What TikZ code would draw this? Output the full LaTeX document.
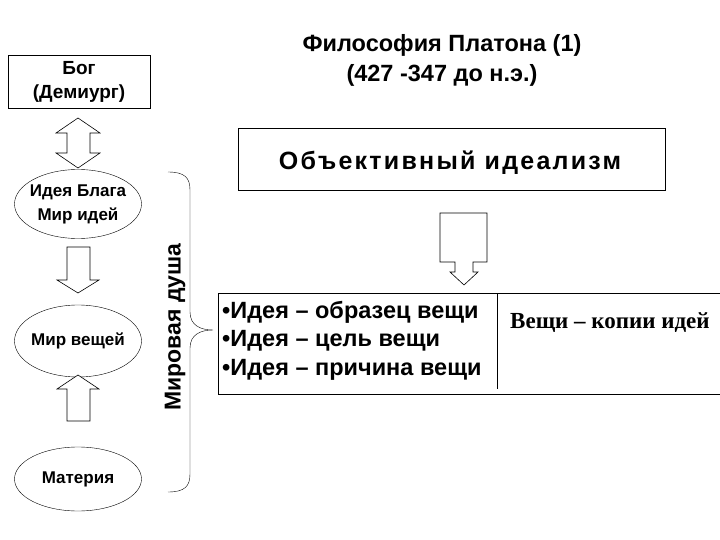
\documentclass[tikz,border=0pt]{standalone}
\usepackage{fontspec}
\setmainfont{Liberation Sans}
\newfontfamily\serifb{Liberation Serif}
\newfontfamily\spaced[LetterSpace=9]{Liberation Sans}
\usetikzlibrary{shapes.geometric}
\begin{document}
\begin{tikzpicture}[x=1pt,y=-1pt,
  ell/.style={draw,ellipse,minimum width=127pt,font=\bfseries\fontsize{17}{24}\selectfont,align=center,inner xsep=-12pt,inner ysep=0pt},
  hollow/.style={draw,fill=white,line width=0.6pt}]
\useasboundingbox (0,0) rectangle (720,540);
\node[align=center,font=\bfseries\fontsize{23.5}{30}\selectfont] (title) at (442,60) {Философия Платона (1)\\(427 -347 до н.э.)};
\node[draw,minimum width=142pt,minimum height=53pt,align=center,font=\bfseries\fontsize{19}{24}\selectfont] (god) at (79,81.5) {Бог\\(Демиург)};
\node[ell,minimum height=69pt] (idea) at (78,204) {Идея Блага\\Мир идей};
\node[ell,minimum height=72pt] (things) at (78,341) {Мир вещей};
\node[ell,minimum height=64pt] (matter) at (78,479) {Материя};
% double arrow
\draw[hollow] (78,118) -- (100,133) -- (90,133) -- (90,153) -- (100,153) -- (78,168) -- (56,153) -- (67,153) -- (67,133) -- (56,133) -- cycle;
% down arrow
\draw[hollow] (67,247) -- (90,247) -- (90,280) -- (99,280) -- (78,293) -- (57,280) -- (67,280) -- cycle;
% up arrow
\draw[hollow] (78,375) -- (99,389) -- (90,389) -- (90,421) -- (67,421) -- (67,389) -- (57,389) -- cycle;
% brace
\coordinate (bt) at (168,172);
\coordinate (bb) at (168,492);
\coordinate (tip) at (213,330);
\draw (bt) .. controls (185,172) and (190,178) .. (190,190) -- (190,312) .. controls (190,325) and (200,330) .. (tip)
      .. controls (200,330) and (190,335) .. (190,348) -- (190,474) .. controls (190,486) and (185,492) .. (bb);
\node[rotate=90,font=\bfseries\fontsize{23}{26}\selectfont] (soul) at (175,327) {Мировая душа};
\node[draw,minimum width=427pt,minimum height=62pt] (obj) at (451.5,159) {};
\node[font=\spaced\bfseries\fontsize{25}{28}\selectfont] (objt) at (450,163) {Объективный идеализм};
% big arrow
\draw[hollow] (440,213) -- (487,213) -- (487,262) -- (473,262) -- (473,272) -- (478,272) -- (464,285) -- (450,272) -- (455,272) -- (455,262) -- (440,262) -- cycle;
\draw (218,293) -- (721,293) (218,293) -- (218,394) -- (721,394);
\draw (497,293) -- (497,389);
\node[anchor=north west,align=left,inner sep=0pt,font=\bfseries\fontsize{23.5}{28.5}\selectfont] (bul) at (222,301) {•Идея – образец вещи\\•Идея – цель вещи\\•Идея – причина вещи};
\node[anchor=west,inner sep=0pt,font=\serifb\bfseries\fontsize{23}{26}\selectfont] (copy) at (510,323) {Вещи – копии идей};
\end{tikzpicture}
\end{document}
